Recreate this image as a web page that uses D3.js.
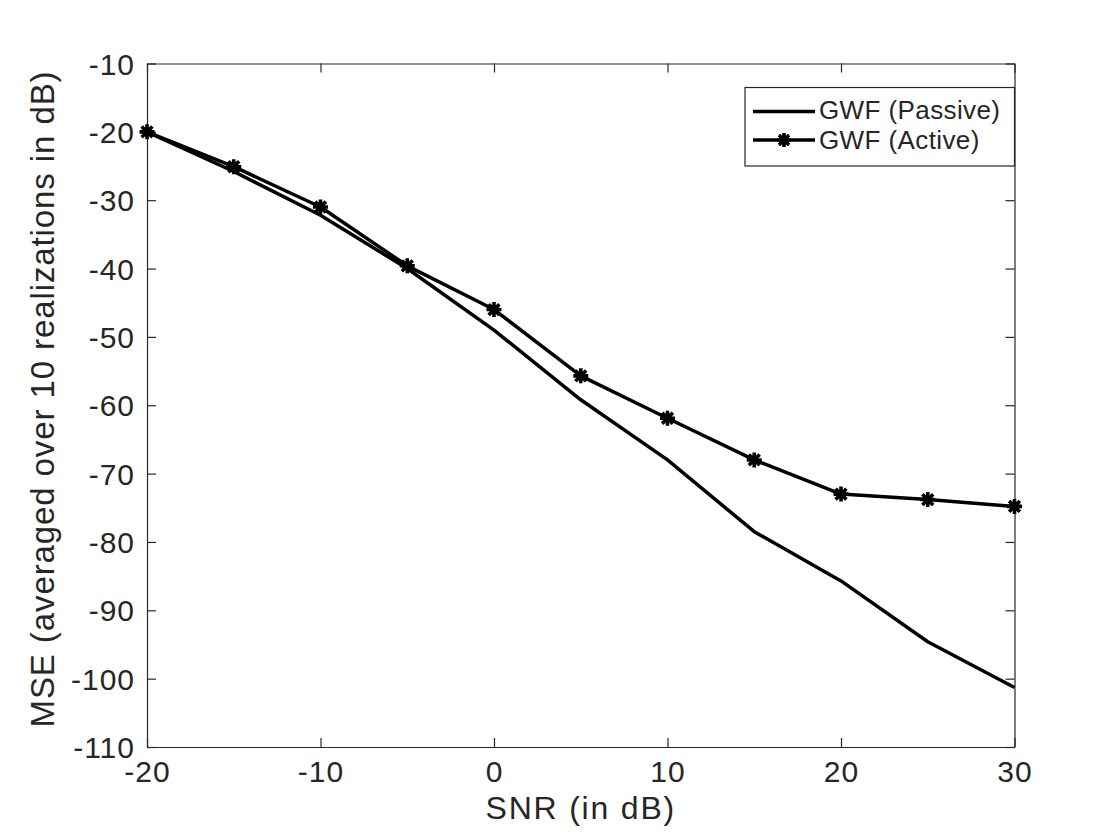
<!DOCTYPE html>
<html>
<head>
<meta charset="utf-8">
<script src="https://cdn.jsdelivr.net/npm/d3@7"></script>
<style>
  body { margin: 0; background: #fff; }
  text { font-family: "Liberation Sans", Arial, Helvetica, sans-serif; fill: #262626; }
</style>
</head>
<body>
<svg id="chart" width="1120" height="840"></svg>
<script>
// values
var snr = [-20, -15, -10, -5, 0, 5, 10, 15, 20, 25, 30];
var passive = [-20.0, -25.8, -32.2, -40.0, -49.0, -59.2, -68.0, -78.5, -85.7, -94.6, -101.3];
var active = [-20.0, -25.1, -31.0, -39.6, -46.0, -55.7, -61.9, -68.0, -73.0, -73.8, -74.8];
var xTicks = [-20, -10, 0, 10, 20, 30];
var yTicks = [-10, -20, -30, -40, -50, -60, -70, -80, -90, -100, -110];
var seriesNames = ['GWF (Passive)', 'GWF (Active)'];

var plotLeft = 147, plotRight = 1014.5, plotTop = 63.5, plotBottom = 747;

var svg = d3.select('#chart');

var x = d3.scaleLinear().domain([-20, 30]).range([plotLeft, plotRight]);
var y = d3.scaleLinear().domain([-110, -10]).range([plotBottom, plotTop]);

var axisColor = '#262626';
var tickLen = 9;
var plainNum = function(d) { return String(d); };

// axes, ticks pointing inside like matlab
var gx = svg.append('g').attr('transform', 'translate(0,' + plotBottom + ')')
  .call(d3.axisBottom(x).tickValues(xTicks).tickSizeInner(-tickLen).tickSizeOuter(0).tickPadding(14).tickFormat(plainNum));
var gxTop = svg.append('g').attr('transform', 'translate(0,' + plotTop + ')')
  .call(d3.axisTop(x).tickValues(xTicks).tickSizeInner(-tickLen).tickSizeOuter(0).tickFormat(''));
var gy = svg.append('g').attr('transform', 'translate(' + plotLeft + ',0)')
  .call(d3.axisLeft(y).tickValues(yTicks).tickSizeInner(-tickLen).tickSizeOuter(0).tickPadding(12).tickFormat(plainNum));
var gyRight = svg.append('g').attr('transform', 'translate(' + plotRight + ',0)')
  .call(d3.axisRight(y).tickValues(yTicks).tickSizeInner(-tickLen).tickSizeOuter(0).tickFormat(''));

[gx, gxTop, gy, gyRight].forEach(function(g) {
  g.select('.domain').attr('stroke', axisColor).attr('stroke-width', 1.2);
  g.selectAll('.tick line').attr('stroke', axisColor).attr('stroke-width', 1.2);
});
gx.selectAll('.tick text').attr('font-size', '30px').attr('fill', axisColor)
  .attr('letter-spacing', '1px')
  .attr('font-family', '"Liberation Sans", Arial, sans-serif');
gy.selectAll('.tick text').attr('font-size', '30px').attr('fill', axisColor)
  .attr('letter-spacing', '1px')
  .attr('font-family', '"Liberation Sans", Arial, sans-serif').attr('dy', '0.35em');

// axis labels
svg.append('text')
  .attr('x', (plotLeft + plotRight) / 2)
  .attr('y', 819)
  .attr('text-anchor', 'middle')
  .attr('font-size', '32px')
  .attr('letter-spacing', '1.8px')
  .text('SNR (in dB)');

svg.append('text')
  .attr('transform', 'translate(53.5,399) rotate(-90)')
  .attr('text-anchor', 'middle')
  .attr('font-size', '33px')
  .attr('letter-spacing', '0.9px')
  .text('MSE (averaged over 10 realizations in dB)');

// lines
var line = d3.line()
  .x(function(d) { return x(d[0]); })
  .y(function(d) { return y(d[1]); });

var passiveData = d3.zip(snr, passive);
var activeData = d3.zip(snr, active);

svg.append('path')
  .datum(passiveData)
  .attr('d', line)
  .attr('fill', 'none')
  .attr('stroke', '#000')
  .attr('stroke-width', 3.5)
  .attr('stroke-linejoin', 'round');

svg.append('path')
  .datum(activeData)
  .attr('d', line)
  .attr('fill', 'none')
  .attr('stroke', '#000')
  .attr('stroke-width', 3.5)
  .attr('stroke-linejoin', 'round');

// asterisk markers like matlab '*'
var drawStar = function(g, cx, cy, r) {
  var d = 'M' + (cx - r) + ',' + cy + 'L' + (cx + r) + ',' + cy +
          'M' + cx + ',' + (cy - r) + 'L' + cx + ',' + (cy + r) +
          'M' + (cx - r * 0.72) + ',' + (cy - r * 0.72) + 'L' + (cx + r * 0.72) + ',' + (cy + r * 0.72) +
          'M' + (cx - r * 0.72) + ',' + (cy + r * 0.72) + 'L' + (cx + r * 0.72) + ',' + (cy - r * 0.72);
  g.append('path').attr('d', d).attr('stroke', '#000').attr('stroke-width', 3.6).attr('fill', 'none');
};

var markers = svg.append('g');
activeData.forEach(function(d) {
  drawStar(markers, x(d[0]), y(d[1]), 7.5);
});

// legend
var legend = svg.append('g');
legend.append('rect')
  .attr('x', 745).attr('y', 87.5)
  .attr('width', 269.5).attr('height', 78.5)
  .attr('fill', '#fff').attr('stroke', axisColor).attr('stroke-width', 1.2);

seriesNames.forEach(function(name, i) {
  var ly = 111.5 + i * 28.5;
  legend.append('line')
    .attr('x1', 753).attr('x2', 815)
    .attr('y1', ly).attr('y2', ly)
    .attr('stroke', '#000').attr('stroke-width', 3.5);
  if (i == 1) {
    drawStar(legend, 784, ly, 7);
  }
  legend.append('text')
    .attr('x', 819).attr('y', 118.5 + i * 30)
    .attr('font-size', '26px')
    .attr('letter-spacing', '0.4px')
    .attr('fill', '#000')
    .text(name);
});
</script>
</body>
</html>
